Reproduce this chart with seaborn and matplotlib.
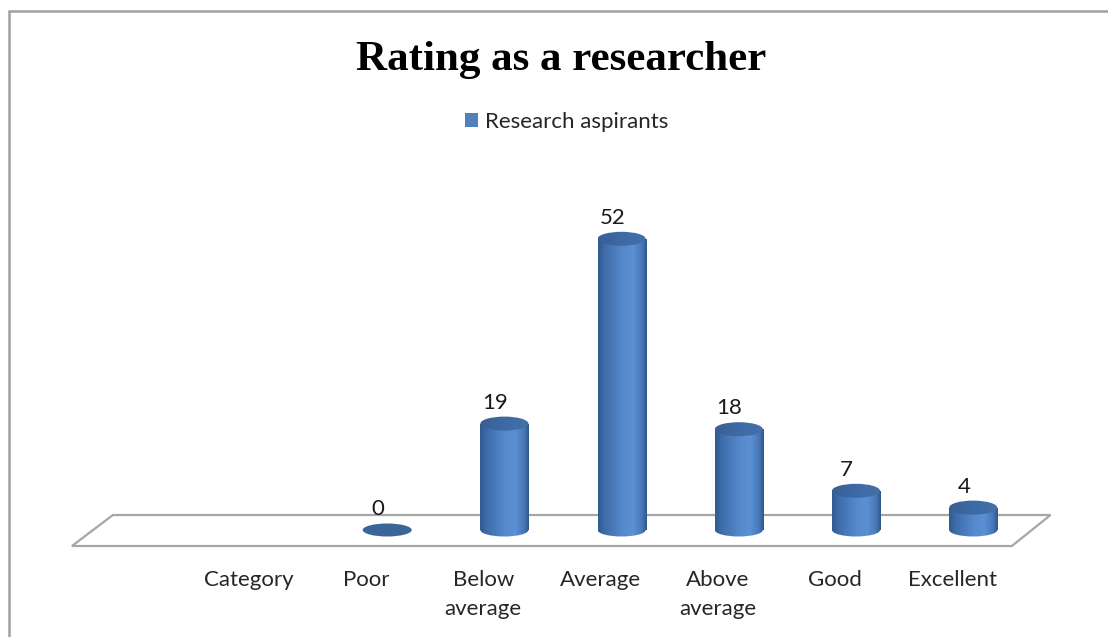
import numpy as np
import pandas as pd
import matplotlib
matplotlib.use("Agg")
import matplotlib.pyplot as plt
import seaborn as sns
from matplotlib.patches import Ellipse, Polygon, Patch
from matplotlib.lines import Line2D
from matplotlib.colors import LinearSegmentedColormap

# ---------------- data ----------------
categories = ["Category", "Poor", "Below\naverage", "Average", "Above\naverage", "Good", "Excellent"]
values = [np.nan, 0, 19, 52, 18, 7, 4]
series_name = "Research aspirants"
title = "Rating as a researcher"

df = pd.DataFrame({"cat": categories, "val": values})

sns.set_theme(style="white")
plt.rcParams["font.family"] = ["Lato", "DejaVu Sans"]

W, H = 1108, 637
fig = plt.figure(figsize=(W / 100, H / 100), dpi=100)
ax = fig.add_axes([0, 0, 1, 1])

BAR_W = 0.41
base_col = "#4f81bd"
sns.barplot(data=df, x="cat", y="val", order=categories, color=base_col,
            width=BAR_W, saturation=1, ax=ax, errorbar=None)
bars = list(ax.containers[0])

# pixel -> data mapping (px per category, px per unit)
PX_CAT, PX_UNIT = 117.2, 5.6
X0_PX, Y0_PX = 270, 530
ax.set_xlim(-X0_PX / PX_CAT, (W - X0_PX) / PX_CAT)
ax.set_ylim((Y0_PX - H) / PX_UNIT, Y0_PX / PX_UNIT)
ax.set_axis_off()

# floor parallelogram
n = len(categories)
fy_front, fy_back = -16 / PX_UNIT, 15 / PX_UNIT
floor = Polygon([(-1.69, fy_front), (n - 1 + 0.33, fy_front),
                 (n - 1 + 0.66, fy_back), (-1.34, fy_back)],
                closed=True, facecolor="white", edgecolor="#a6a6a6", lw=1.6, zorder=0.5)
ax.add_patch(floor)

# cylinder shading
cyl_cmap = LinearSegmentedColormap.from_list(
    "cyl", [(0.0, "#2f5a90"), (0.12, "#3d6ba8"), (0.5, "#5489cc"),
            (0.72, "#5b90d4"), (0.9, "#4778b9"), (1.0, "#2d5789")])
top_cmap = LinearSegmentedColormap.from_list(
    "top", [(0.0, "#385f94"), (0.6, "#3f6ca8"), (1.0, "#456fa6")])
grad = np.linspace(0, 1, 256)[None, :]

top_h = 14 / PX_UNIT
bot_h = 13 / PX_UNIT

for i, patch in enumerate(bars):
    h = patch.get_height()
    if not np.isfinite(h):
        patch.set_visible(False)
        continue
    x0 = patch.get_x()
    w = patch.get_width()
    xc = x0 + w / 2
    patch.set_zorder(2)
    patch.set_edgecolor("none")
    if h <= 0:
        patch.set_visible(False)
        e = Ellipse((xc, 0), w * 1.02, bot_h, facecolor="#3a6597", edgecolor="none", zorder=3)
        ax.add_patch(e)
    else:
        im = ax.imshow(grad, cmap=cyl_cmap, aspect="auto",
                       extent=(x0, x0 + w, -bot_h, h), zorder=2.5, interpolation="bilinear")
        im.set_clip_path(patch)
        bot = Ellipse((xc, 0), w, bot_h, facecolor="none", edgecolor="none", zorder=2)
        ax.add_patch(bot)
        im2 = ax.imshow(grad, cmap=cyl_cmap, aspect="auto",
                        extent=(x0, x0 + w, -bot_h, h), zorder=2.5, interpolation="bilinear")
        im2.set_clip_path(bot)
        top = Ellipse((xc, h), w, top_h, angle=0, facecolor="none", edgecolor="none", zorder=3)
        ax.add_patch(top)
        im3 = ax.imshow(grad, cmap=top_cmap, aspect="auto",
                        extent=(x0, x0 + w, h - top_h, h + top_h), zorder=3.5, interpolation="bilinear")
        im3.set_clip_path(top)
    # value label
    ax.text(xc - 0.08, h + 21 / PX_UNIT, f"{h:.0f}", ha="center", va="center",
            fontsize=16, color="#1a1a1a", zorder=5)

ax.set_xlim(-X0_PX / PX_CAT, (W - X0_PX) / PX_CAT)
ax.set_ylim((Y0_PX - H) / PX_UNIT, Y0_PX / PX_UNIT)

# category labels
for i, c in enumerate(categories):
    ax.text(i - 0.18, (Y0_PX - 570) / PX_UNIT, c, ha="center", va="top",
            fontsize=16, color="#262626", linespacing=1.55)

# title
fig.text(561 / W, 1 - 70 / H, title, ha="center", va="baseline",
         fontsize=31, fontweight="bold", family="Liberation Serif", color="black")

# legend
handle = Patch(facecolor=base_col, edgecolor="none")
leg = ax.legend([handle], [series_name], loc="center", bbox_to_anchor=(567 / W, 1 - 122 / H),
                bbox_transform=fig.transFigure, frameon=False, fontsize=16,
                handlelength=0.55, handleheight=0.55, handletextpad=0.35)
for t in leg.get_texts():
    t.set_color("#262626")

# outer border (top and left)
fig.add_artist(Line2D([9 / W, 9 / W], [0, 1 - 11 / H], transform=fig.transFigure,
                      color="#a0a0a0", lw=1.8))
fig.add_artist(Line2D([9 / W, 1], [1 - 11 / H, 1 - 11 / H], transform=fig.transFigure,
                      color="#a0a0a0", lw=1.8))

fig.savefig("out.png", dpi=100, facecolor="white")
